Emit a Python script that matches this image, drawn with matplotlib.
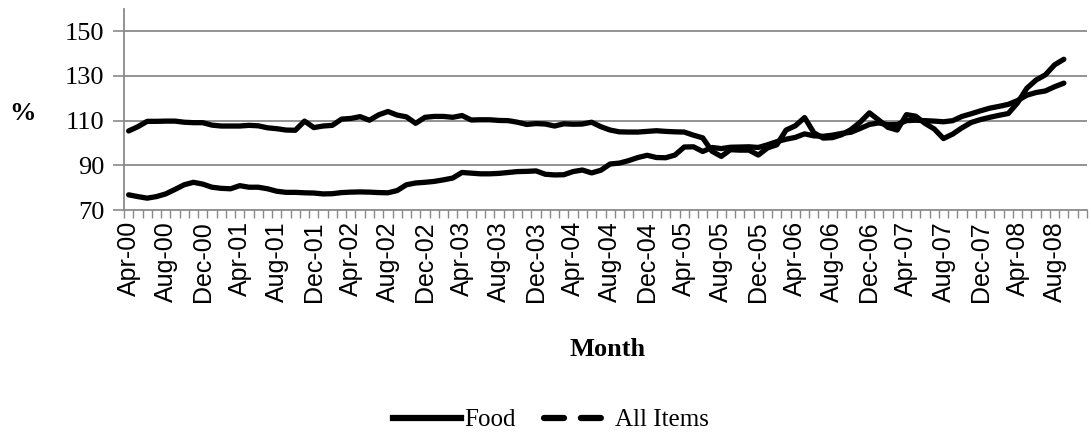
import numpy as np
import pandas as pd
import matplotlib
matplotlib.use("Agg")
import matplotlib.pyplot as plt
from matplotlib.lines import Line2D
from matplotlib.ticker import FixedLocator

# category axis: one slot per month, Apr-00 .. Nov-08 (last two have no data)
months = pd.period_range("2000-04", "2008-11", freq="M")

food = [
    105.4, 107.3, 109.7, 109.7, 109.8, 109.8, 109.3, 109.1, 109.1, 108.0,
    107.6, 107.6, 107.6, 107.9, 107.7, 106.8, 106.4, 105.8, 105.7, 109.8,
    106.9, 107.6, 107.9, 110.7, 111.0, 111.8, 110.2, 112.6, 114.1, 112.5,
    111.7, 108.8, 111.5, 111.9, 111.9, 111.5, 112.3, 110.3, 110.4, 110.4,
    110.1, 110.0, 109.3, 108.3, 108.7, 108.5, 107.6, 108.6, 108.4, 108.5,
    109.3, 107.3, 105.8, 105.0, 104.9, 104.9, 105.2, 105.5, 105.2, 105.0,
    104.9, 103.5, 102.3, 96.3, 94.0, 97.0, 96.8, 96.8, 94.6, 97.8,
    99.2, 105.8, 107.7, 111.4, 104.6, 102.2, 102.4, 103.7, 106.0, 109.3,
    113.5, 110.3, 107.0, 105.8, 112.7, 112.0, 108.8, 106.3, 102.0, 104.0,
    106.8, 109.2, 110.5, 111.5, 112.4, 113.2, 118.0, 124.5, 128.2, 130.5,
    135.0, 137.5,
]

all_items = [
    76.8, 76.0, 75.3, 76.0, 77.2, 79.2, 81.3, 82.4, 81.6, 80.2,
    79.7, 79.5, 80.9, 80.2, 80.2, 79.5, 78.4, 77.9, 77.9, 77.7,
    77.6, 77.2, 77.3, 77.8, 78.0, 78.1, 78.0, 77.8, 77.7, 78.7,
    81.3, 82.1, 82.4, 82.8, 83.5, 84.3, 86.8, 86.5, 86.2, 86.2,
    86.4, 86.8, 87.2, 87.3, 87.5, 86.0, 85.7, 85.8, 87.2, 87.9,
    86.6, 87.8, 90.6, 91.0, 92.1, 93.5, 94.5, 93.5, 93.4, 94.6,
    98.2, 98.3, 96.2, 98.0, 97.5, 98.1, 98.2, 98.3, 98.0, 99.2,
    100.6, 101.7, 102.5, 104.1, 103.2, 103.0, 103.5, 104.3, 104.8, 106.5,
    108.3, 109.0, 108.2, 108.3, 110.0, 110.2, 110.0, 109.8, 109.5, 110.0,
    111.9, 113.1, 114.4, 115.6, 116.4, 117.3, 119.0, 121.4, 122.6, 123.3,
    125.2, 126.8,
]

tick_labels = [
    "Apr-00", "Aug-00", "Dec-00", "Apr-01", "Aug-01", "Dec-01", "Apr-02",
    "Aug-02", "Dec-02", "Apr-03", "Aug-03", "Dec-03", "Apr-04", "Aug-04",
    "Dec-04", "Apr-05", "Aug-05", "Dec-05", "Apr-06", "Aug-06", "Dec-06",
    "Apr-07", "Aug-07", "Dec-07", "Apr-08", "Aug-08",
]
y_ticks = [70, 90, 110, 130, 150]

SERIF = "Liberation Serif"
SANS = "Liberation Sans"
GRID = "#8a8a8a"

fig = plt.figure(figsize=(10.91, 4.32), dpi=100)
ax = fig.add_axes([124 / 1091, 1 - 210 / 432, (1087 - 124) / 1091, (210 - 9) / 432])

lw = 3.8
ax.plot(np.arange(len(food)), food, color="black", lw=lw,
        solid_joinstyle="round", solid_capstyle="round", zorder=3)
ax.plot(np.arange(len(all_items)), all_items, color="black", lw=lw,
        solid_joinstyle="round", solid_capstyle="round", zorder=3)

ax.set_xlim(-0.5, len(months) - 0.5)
ax.set_ylim(70, 160)

# y axis
ax.set_yticks(y_ticks)
ax.set_yticklabels([str(v) for v in y_ticks], fontfamily=SERIF, fontsize=19)
for v in y_ticks[1:]:
    ax.axhline(v, color=GRID, lw=1.3, zorder=1)
ax.tick_params(axis="y", direction="out", length=8, width=1.2, color=GRID, pad=6)

# x axis: labels every 4th month, tick marks at every month boundary
ax.set_xticks(np.arange(0, len(tick_labels) * 4, 4))
ax.set_xticklabels(tick_labels, rotation=90, fontfamily=SANS, fontsize=18)
ax.tick_params(axis="x", which="major", length=0, pad=8)
ax.xaxis.set_minor_locator(FixedLocator(np.arange(-0.5, len(months), 1)))
ax.tick_params(axis="x", which="minor", direction="out", length=6, width=1.0, color=GRID)

for s in ["top", "right"]:
    ax.spines[s].set_visible(False)
for s in ["left", "bottom"]:
    ax.spines[s].set_color(GRID)
    ax.spines[s].set_linewidth(1.3)

fig.text(22 / 1091, 1 - 113 / 432, "%", fontfamily=SERIF, fontsize=19,
         fontweight="bold", ha="center", va="center")
fig.text(608 / 1091, 1 - 349 / 432, "Month", fontfamily=SERIF, fontsize=19,
         fontweight="bold", ha="center", va="center")

handles = [
    Line2D([0], [0], color="black", lw=4.5),
    Line2D([0], [0], color="black", lw=4.5, ls=(0, (3.2, 2.7)), dash_capstyle="round"),
]
fig.legend(handles, ["Food", "All Items"], loc="center", bbox_to_anchor=(551 / 1091, 1 - 420 / 432),
           ncol=2, frameon=False, prop={"family": SERIF, "size": 18},
           handlelength=2.7, handletextpad=0.15, columnspacing=1.1)

fig.savefig("out.png", dpi=100)
